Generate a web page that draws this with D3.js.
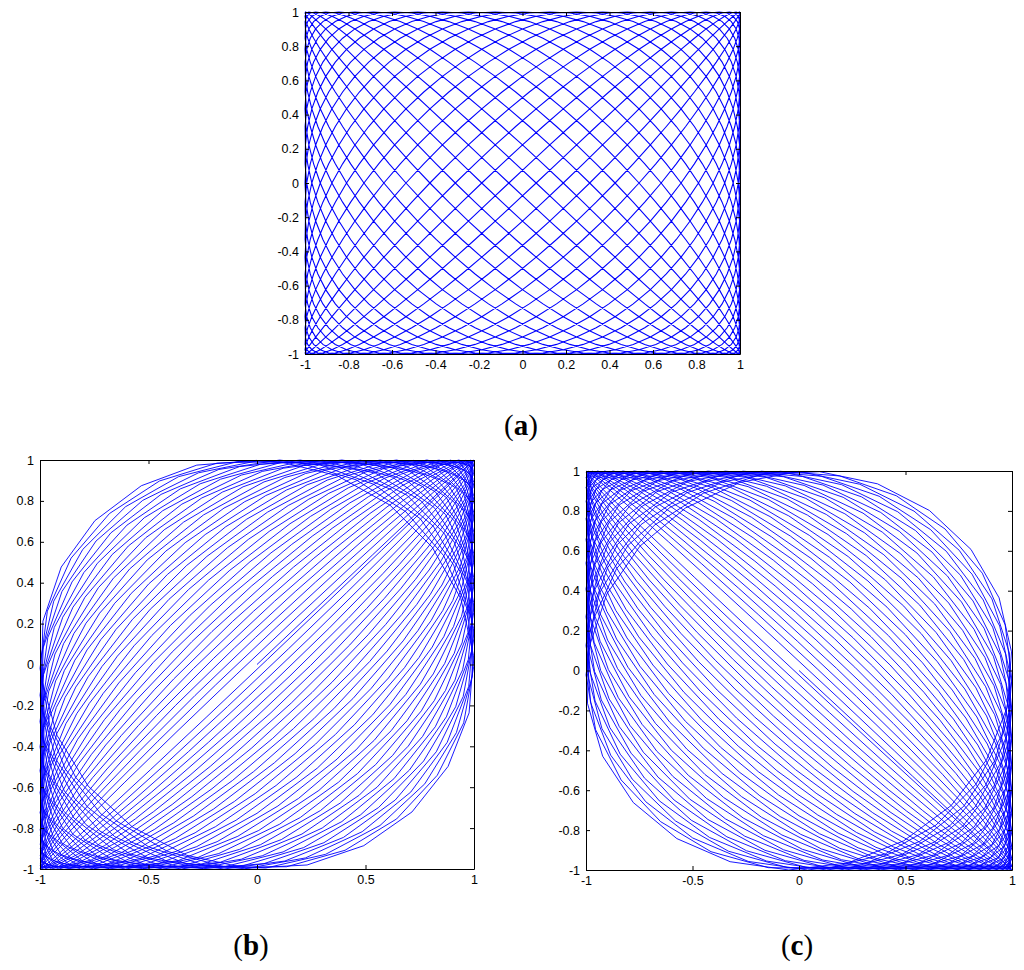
<!DOCTYPE html>
<meta charset="utf-8">
<style>
body { margin: 0; background: #fff; }
svg { font: 12px Arial, "Liberation Sans", sans-serif; }
.axis path, .axis line { stroke: #000; }
.axis text { fill: #000; }
.curve { fill: none; stroke: #0000ff; }
.label { font-family: "Liberation Serif", "DejaVu Serif", serif; font-size: 29px; }
</style>
<body>
<svg width="1024" height="970"></svg>
<script src="https://cdn.jsdelivr.net/npm/d3@7/dist/d3.min.js"></script>
<script>

// panels and tick labels
var panels = ["a", "b", "c"];
var ticksFine = [-1, -0.8, -0.6, -0.4, -0.2, 0, 0.2, 0.4, 0.6, 0.8, 1];
var ticksHalf = [-1, -0.5, 0, 0.5, 1];

// lissajous settings, one entry per panel
// x = sin(freqX*t + phaseX), y = sin(freqY*t + phase), phase drifts start -> end
var freqX = [21, 1, 1];
var freqY = [25, 1, 1];
var phaseX = [Math.PI / 50, 0, 0];
var phaseStart = [0, 0, Math.PI];
var phaseEnd = [0, 1.63, 1.51];
var turns = [1, 35, 35];          // number of 2*pi periods of t
var samples = [1400, 782, 782];   // points on the whole trace
var lineWidth = [1.1, 0.9, 0.9];

var svg = d3.select("svg");

// plot boxes [left, top, right, bottom]
var boxes = [[305, 12, 740, 354], [40, 460, 474, 869], [586, 471, 1012, 870]];
var captions = [[521, 435], [251, 955], [797, 955]];

function fmt(v) { return String(+v.toFixed(1)); }

panels.forEach(function(name, i) {
  var b = boxes[i];
  var x = d3.scaleLinear().domain([-1, 1]).range([b[0], b[2]]);
  var y = d3.scaleLinear().domain([-1, 1]).range([b[3], b[1]]);
  var xt = i == 0 ? ticksFine : ticksHalf;

  var pts = d3.range(samples[i] + 1).map(function(n) {
    var t = n / samples[i] * turns[i] * 2 * Math.PI;
    var ph = phaseStart[i] + (phaseEnd[i] - phaseStart[i]) * n / samples[i];
    return [Math.sin(freqX[i] * t + phaseX[i]), Math.sin(freqY[i] * t + ph)];
  });

  var g = svg.append("g");

  g.append("path")
    .attr("class", "curve")
    .style("stroke-width", lineWidth[i])
    .attr("d", d3.line().x(function(d) { return x(d[0]); }).y(function(d) { return y(d[1]); })(pts));

  g.append("g").attr("class", "axis")
    .attr("transform", "translate(0," + b[3] + ")")
    .call(d3.axisBottom(x).tickValues(xt).tickFormat(fmt).tickSizeInner(-4).tickSizeOuter(0).tickPadding(6));
  g.append("g").attr("class", "axis")
    .attr("transform", "translate(0," + b[1] + ")")
    .call(d3.axisTop(x).tickValues(xt).tickFormat("").tickSizeInner(-4).tickSizeOuter(0));
  g.append("g").attr("class", "axis")
    .attr("transform", "translate(" + b[0] + ",0)")
    .call(d3.axisLeft(y).tickValues(ticksFine).tickFormat(fmt).tickSizeInner(-4).tickSizeOuter(0).tickPadding(6));
  g.append("g").attr("class", "axis")
    .attr("transform", "translate(" + b[2] + ",0)")
    .call(d3.axisRight(y).tickValues(ticksFine).tickFormat("").tickSizeInner(-4).tickSizeOuter(0));

  g.selectAll(".axis text").style("font-size", "12.5px").style("font-family", "Arial, 'Liberation Sans', sans-serif");

  var cap = svg.append("text")
    .attr("class", "label")
    .attr("x", captions[i][0])
    .attr("y", captions[i][1])
    .attr("text-anchor", "middle");
  cap.append("tspan").text("(");
  cap.append("tspan").style("font-weight", "bold").text(name);
  cap.append("tspan").text(")");
});

</script>
</body>
